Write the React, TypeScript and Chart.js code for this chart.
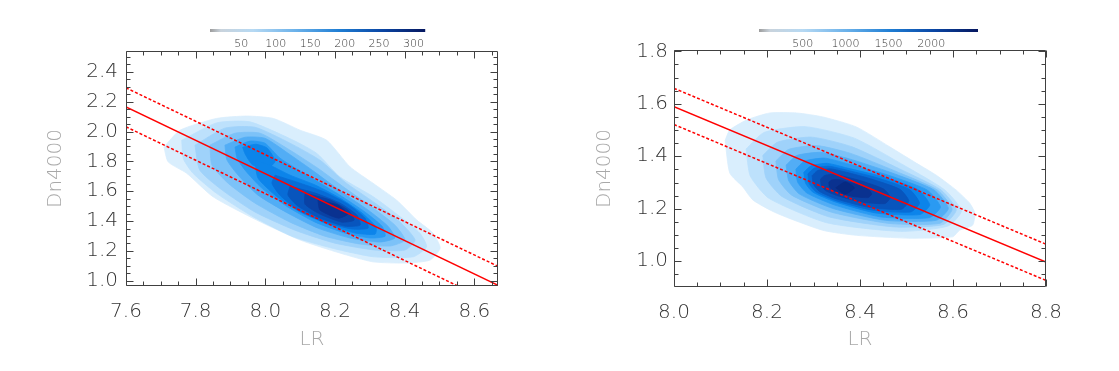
import React, { useEffect, useRef } from 'react';
import { Chart, registerables } from 'chart.js';

Chart.register(...registerables);

type Pt = [number, number];

// ---------- shared ----------
const LEVEL_COLORS = [
  '#d9eefd', '#bde1fc', '#9fd2fa', '#7cc2f8', '#52adf5', '#2a9af2',
  '#0c84ea', '#086cd6', '#0855bd', '#0a42a5', '#0a3290', '#072a82',
];

// ---------- left panel ----------
const LEFT_X_TICKS = [7.6, 7.8, 8.0, 8.2, 8.4, 8.6];
const LEFT_Y_TICKS = [1.0, 1.2, 1.4, 1.6, 1.8, 2.0, 2.2, 2.4];
const LEFT_CB_TICKS = [50, 100, 150, 200, 250, 300];

const LEFT_L1: Pt[] = [[7.709,1.897],[7.755,2.009],[7.860,2.088],[7.947,2.104],[8.023,2.088],[8.100,2.009],[8.176,1.942],[8.243,1.764],[8.309,1.654],[8.377,1.540],[8.435,1.407],[8.481,1.320],[8.502,1.219],[8.473,1.139],[8.406,1.119],[8.309,1.127],[8.214,1.186],[8.100,1.273],[7.975,1.407],[7.850,1.563],[7.774,1.721],[7.721,1.797]];
const LEFT_L2: Pt[] = [[7.760,1.942],[7.860,2.058],[7.956,2.065],[8.080,1.942],[8.148,1.853],[8.214,1.697],[8.310,1.563],[8.387,1.429],[8.444,1.318],[8.463,1.228],[8.425,1.161],[8.310,1.161],[8.195,1.217],[8.080,1.295],[7.965,1.429],[7.860,1.586],[7.793,1.719],[7.765,1.816]];
const LEFT_L3: Pt[] = [[7.798,1.909],[7.884,2.023],[7.970,2.029],[8.071,1.922],[8.157,1.808],[8.229,1.661],[8.315,1.521],[8.387,1.393],[8.430,1.273],[8.401,1.206],[8.315,1.206],[8.200,1.252],[8.085,1.339],[7.970,1.461],[7.876,1.608],[7.812,1.741]];
const LEFT_L4: Pt[] = [[7.841,1.909],[7.913,1.989],[7.985,1.989],[8.071,1.875],[8.151,1.754],[8.229,1.621],[8.306,1.494],[8.372,1.373],[8.401,1.273],[8.358,1.233],[8.272,1.246],[8.171,1.299],[8.071,1.393],[7.970,1.521],[7.893,1.654],[7.847,1.775]];
const LEFT_L5: Pt[] = [[7.884,1.909],[7.942,1.962],[7.999,1.955],[8.065,1.855],[8.143,1.727],[8.220,1.594],[8.295,1.474],[8.352,1.366],[8.372,1.287],[8.329,1.260],[8.243,1.287],[8.151,1.353],[8.065,1.453],[7.979,1.574],[7.922,1.708],[7.890,1.809]];
const LEFT_L6: Pt[] = [[7.913,1.896],[7.956,1.936],[7.999,1.922],[8.042,1.822],[8.128,1.695],[8.214,1.574],[8.286,1.461],[8.335,1.366],[8.344,1.299],[8.301,1.287],[8.229,1.320],[8.143,1.393],[8.065,1.494],[7.990,1.621],[7.942,1.741],[7.919,1.822]];
const LEFT_L7: Pt[] = [[7.970,1.809],[8.013,1.775],[8.071,1.708],[8.143,1.642],[8.214,1.554],[8.278,1.453],[8.318,1.360],[8.315,1.312],[8.258,1.320],[8.186,1.373],[8.100,1.461],[8.028,1.574],[7.979,1.688]];
const LEFT_L8: Pt[] = [[8.028,1.708],[8.100,1.654],[8.171,1.594],[8.237,1.513],[8.286,1.420],[8.295,1.353],[8.249,1.347],[8.171,1.393],[8.094,1.474],[8.042,1.574],[8.019,1.654]];
const LEFT_L9: Pt[] = [[8.071,1.634],[8.143,1.588],[8.214,1.521],[8.263,1.440],[8.272,1.373],[8.229,1.366],[8.157,1.420],[8.094,1.500],[8.065,1.574]];
const LEFT_L10: Pt[] = [[8.114,1.588],[8.186,1.541],[8.237,1.474],[8.255,1.407],[8.220,1.393],[8.157,1.447],[8.114,1.513]];
const LEFT_L11: Pt[] = [[8.151,1.541],[8.209,1.507],[8.237,1.447],[8.209,1.420],[8.157,1.474]];
const LEFT_LOBE: Pt[] = [[7.935,1.895],[7.972,1.915],[8.005,1.890],[8.028,1.800],[8.000,1.745],[7.962,1.780],[7.942,1.850]];

const LEFT_FIT_X = [7.6, 8.7];
const LEFT_FIT_MID = [2.166, 0.934];
const LEFT_FIT_HIGH = [2.293, 1.061];
const LEFT_FIT_LOW = [2.032, 0.800];

// ---------- right panel ----------
const RIGHT_X_TICKS = [8.0, 8.2, 8.4, 8.6, 8.8];
const RIGHT_Y_TICKS = [1.0, 1.2, 1.4, 1.6, 1.8];
const RIGHT_CB_TICKS = [500, 1000, 1500, 2000];

const RIGHT_L1: Pt[] = [[8.110,1.461],[8.120,1.336],[8.148,1.283],[8.170,1.233],[8.221,1.183],[8.320,1.118],[8.392,1.099],[8.505,1.088],[8.599,1.093],[8.614,1.118],[8.642,1.137],[8.647,1.183],[8.636,1.221],[8.607,1.271],[8.564,1.328],[8.521,1.374],[8.464,1.436],[8.392,1.512],[8.320,1.550],[8.264,1.565],[8.206,1.565],[8.156,1.538],[8.120,1.500]];
const RIGHT_L2: Pt[] = [[8.155,1.428],[8.164,1.325],[8.204,1.240],[8.328,1.147],[8.487,1.114],[8.589,1.134],[8.618,1.192],[8.583,1.271],[8.500,1.360],[8.388,1.469],[8.282,1.513],[8.194,1.491]];
const RIGHT_L3: Pt[] = [[8.191,1.403],[8.198,1.317],[8.232,1.247],[8.334,1.169],[8.474,1.131],[8.579,1.140],[8.607,1.196],[8.574,1.272],[8.485,1.352],[8.383,1.436],[8.296,1.473],[8.223,1.454]];
const RIGHT_L4: Pt[] = [[8.219,1.382],[8.225,1.311],[8.253,1.252],[8.339,1.187],[8.464,1.144],[8.572,1.145],[8.598,1.199],[8.566,1.272],[8.474,1.345],[8.380,1.411],[8.307,1.441],[8.246,1.426]];
const RIGHT_L5: Pt[] = [[8.241,1.366],[8.247,1.306],[8.270,1.256],[8.342,1.201],[8.455,1.156],[8.564,1.156],[8.590,1.202],[8.559,1.272],[8.465,1.339],[8.377,1.390],[8.316,1.415],[8.264,1.403]];
const RIGHT_L6: Pt[] = [[8.262,1.351],[8.266,1.301],[8.286,1.260],[8.346,1.214],[8.445,1.169],[8.549,1.166],[8.573,1.207],[8.544,1.272],[8.454,1.332],[8.375,1.371],[8.324,1.393],[8.281,1.382]];
const RIGHT_L7: Pt[] = [[8.279,1.339],[8.283,1.297],[8.299,1.263],[8.349,1.225],[8.434,1.184],[8.529,1.178],[8.550,1.215],[8.525,1.273],[8.442,1.325],[8.373,1.355],[8.330,1.373],[8.295,1.364]];
const RIGHT_L8: Pt[] = [[8.288,1.333],[8.291,1.295],[8.306,1.264],[8.350,1.230],[8.426,1.195],[8.509,1.188],[8.528,1.222],[8.506,1.274],[8.433,1.320],[8.372,1.347],[8.333,1.362],[8.302,1.355]];
const RIGHT_L9: Pt[] = [[8.297,1.326],[8.300,1.293],[8.313,1.266],[8.352,1.236],[8.418,1.206],[8.489,1.198],[8.505,1.230],[8.486,1.274],[8.423,1.314],[8.371,1.339],[8.337,1.352],[8.309,1.346]];
const RIGHT_L10: Pt[] = [[8.315,1.313],[8.317,1.289],[8.326,1.269],[8.355,1.248],[8.403,1.226],[8.454,1.220],[8.465,1.244],[8.451,1.275],[8.407,1.304],[8.369,1.322],[8.344,1.332],[8.324,1.327]];
const RIGHT_L11: Pt[] = [[8.333,1.300],[8.334,1.285],[8.340,1.273],[8.358,1.259],[8.388,1.246],[8.418,1.243],[8.425,1.257],[8.417,1.276],[8.390,1.294],[8.367,1.306],[8.351,1.312],[8.338,1.309]];
const RIGHT_L12: Pt[] = [[8.348,1.280],[8.368,1.302],[8.388,1.280],[8.368,1.256]];

const RIGHT_FIT_X = [8.0, 8.8];
const RIGHT_FIT_MID = [1.589, 0.997];
const RIGHT_FIT_HIGH = [1.659, 1.065];
const RIGHT_FIT_LOW = [1.521, 0.927];

// ---------- styling ----------
const FONT_FAMILY = "'DejaVu Sans', 'Liberation Sans', sans-serif";
const TICK_COLOR = '#333333';
const TITLE_COLOR = '#a8a8a8';
const FRAME_COLOR = '#404040';

interface PanelCfg {
  left: number;
  width: number;
  pad: { left: number; right: number; top: number; bottom: number };
  yAxisWidth: number;
  xAxisHeight: number;
  xMin: number; xMax: number; yMin: number; yMax: number;
  xTicks: number[]; yTicks: number[];
  levels: Pt[][];
  extras: { poly: Pt[]; level: number; order: number }[];
  fitX: number[]; fitMid: number[]; fitHigh: number[]; fitLow: number[];
  yTickPad: number;
}

const LEFT_CFG: PanelCfg = {
  left: 0, width: 560,
  pad: { left: 44, right: 62, top: 51, bottom: 19 },
  yAxisWidth: 82, xAxisHeight: 66,
  xMin: 7.6, xMax: 8.668, yMin: 0.965, yMax: 2.54,
  xTicks: LEFT_X_TICKS, yTicks: LEFT_Y_TICKS,
  levels: [LEFT_L1, LEFT_L2, LEFT_L3, LEFT_L4, LEFT_L5, LEFT_L6, LEFT_L7, LEFT_L8, LEFT_L9, LEFT_L10, LEFT_L11],
  extras: [{ poly: LEFT_LOBE, level: 6, order: 24.5 }],
  fitX: LEFT_FIT_X, fitMid: LEFT_FIT_MID, fitHigh: LEFT_FIT_HIGH, fitLow: LEFT_FIT_LOW,
  yTickPad: 8,
};

const RIGHT_CFG: PanelCfg = {
  left: 560, width: 559,
  pad: { left: 33, right: 73, top: 50, bottom: 19 },
  yAxisWidth: 81, xAxisHeight: 65,
  xMin: 8.0, xMax: 8.8, yMin: 0.902, yMax: 1.805,
  xTicks: RIGHT_X_TICKS, yTicks: RIGHT_Y_TICKS,
  levels: [RIGHT_L1, RIGHT_L2, RIGHT_L3, RIGHT_L4, RIGHT_L5, RIGHT_L6, RIGHT_L7, RIGHT_L8, RIGHT_L9, RIGHT_L10, RIGHT_L11, RIGHT_L12],
  extras: [],
  fitX: RIGHT_FIT_X, fitMid: RIGHT_FIT_MID, fitHigh: RIGHT_FIT_HIGH, fitLow: RIGHT_FIT_LOW,
  yTickPad: 6,
};

const MINOR_STEP = 0.05;

const framePlugin = {
  id: 'frameTicks',
  afterDatasetsDraw(chart: any) {
    const { ctx, chartArea: a } = chart;
    const xs = chart.scales.x;
    const ys = chart.scales.y;
    ctx.save();
    ctx.strokeStyle = FRAME_COLOR;
    ctx.lineWidth = 1;
    const L = Math.round(a.left) + 0.5;
    const R = Math.round(a.right) - 0.5;
    const T = Math.round(a.top) + 0.5;
    const B = Math.round(a.bottom) - 0.5;
    ctx.beginPath();
    ctx.rect(L, T, R - L, B - T);
    ctx.stroke();
    const majX = xs.ticks.map((t: any) => t.value);
    const majY = ys.ticks.map((t: any) => t.value);
    const isMajor = (v: number, arr: number[]) => arr.some((m) => Math.abs(m - v) < 1e-6);
    ctx.beginPath();
    const kx0 = Math.ceil(xs.min / MINOR_STEP - 1e-6);
    const kx1 = Math.floor(xs.max / MINOR_STEP + 1e-6);
    for (let k = kx0; k <= kx1; k++) {
      const v = k * MINOR_STEP;
      const len = isMajor(v, majX) ? 7 : 4;
      const p = Math.round(xs.getPixelForValue(v)) + 0.5;
      ctx.moveTo(p, B); ctx.lineTo(p, B - len);
      ctx.moveTo(p, T); ctx.lineTo(p, T + len);
    }
    const ky0 = Math.ceil(ys.min / MINOR_STEP - 1e-6);
    const ky1 = Math.floor(ys.max / MINOR_STEP + 1e-6);
    for (let k = ky0; k <= ky1; k++) {
      const v = k * MINOR_STEP;
      const len = isMajor(v, majY) ? 7 : 4;
      const p = Math.round(ys.getPixelForValue(v)) + 0.5;
      ctx.moveTo(L, p); ctx.lineTo(L + len, p);
      ctx.moveTo(R, p); ctx.lineTo(R - len, p);
    }
    ctx.stroke();
    ctx.restore();
  },
};

function Panel({ cfg }: { cfg: PanelCfg }) {
  const ref = useRef<HTMLCanvasElement>(null);
  useEffect(() => {
    if (!ref.current) return;
    const polyDs = (poly: Pt[], color: string, order: number) => ({
      data: [...poly, poly[0]].map(([x, y]) => ({ x, y })),
      backgroundColor: color,
      borderColor: color,
      borderWidth: 0.8,
      pointRadius: 0,
      fill: 'shape',
      tension: 0.2,
      order,
    });
    const fitDs = (ys: number[], dash: number[]) => ({
      data: cfg.fitX.map((x, i) => ({ x, y: ys[i] })),
      borderColor: '#ff0000',
      backgroundColor: '#ff0000',
      borderWidth: 1.5,
      borderDash: dash,
      pointRadius: 0,
      fill: false,
      tension: 0,
      order: 0,
    });
    const datasets: any[] = [
      fitDs(cfg.fitMid, []),
      fitDs(cfg.fitHigh, [3, 2]),
      fitDs(cfg.fitLow, [3, 2]),
    ];
    cfg.levels.forEach((poly, i) => datasets.push(polyDs(poly, LEVEL_COLORS[i], 30 - i)));
    cfg.extras.forEach((e) => datasets.push(polyDs(e.poly, LEVEL_COLORS[e.level], e.order)));

    const tickFont = { family: FONT_FAMILY, size: 20, weight: '200' as any };
    const chart = new Chart(ref.current, {
      type: 'line',
      data: { datasets },
      options: {
        responsive: false,
        animation: false,
        events: [],
        layout: { padding: cfg.pad },
        plugins: { legend: { display: false }, tooltip: { enabled: false } },
        scales: {
          x: {
            type: 'linear',
            min: cfg.xMin,
            max: cfg.xMax,
            afterBuildTicks: (s: any) => { s.ticks = cfg.xTicks.map((v) => ({ value: v })); },
            afterFit: (s: any) => { s.height = cfg.xAxisHeight; },
            ticks: {
              callback: (v: any) => Number(v).toFixed(1),
              color: TICK_COLOR,
              font: tickFont,
              padding: 14,
              maxRotation: 0,
              autoSkip: false,
            },
            grid: { display: false, drawTicks: false },
            border: { display: false },
            title: { display: true, text: 'LR', color: TITLE_COLOR, font: tickFont, padding: 0 },
          },
          y: {
            type: 'linear',
            min: cfg.yMin,
            max: cfg.yMax,
            afterBuildTicks: (s: any) => { s.ticks = cfg.yTicks.map((v) => ({ value: v })); },
            afterFit: (s: any) => { s.width = cfg.yAxisWidth; },
            ticks: {
              callback: (v: any) => Number(v).toFixed(1),
              color: TICK_COLOR,
              font: tickFont,
              padding: cfg.yTickPad,
              autoSkip: false,
            },
            grid: { display: false, drawTicks: false },
            border: { display: false },
            title: { display: true, text: 'Dn4000', color: TITLE_COLOR, font: tickFont, padding: 0 },
          },
        },
      } as any,
      plugins: [framePlugin],
    });
    return () => chart.destroy();
  }, [cfg]);
  return (
    <canvas
      ref={ref}
      width={cfg.width}
      height={371}
      style={{ position: 'absolute', left: cfg.left, top: 0, width: cfg.width, height: 371 }}
    />
  );
}

interface CbCfg { left: number; top: number; width: number; min: number; max: number; ticks: number[] }

const LEFT_CB: CbCfg = { left: 210, top: 29, width: 220, min: 4.5, max: 317, ticks: LEFT_CB_TICKS };
const RIGHT_CB: CbCfg = { left: 759, top: 29, width: 219, min: -12, max: 2547, ticks: RIGHT_CB_TICKS };

const gradientPlugin = {
  id: 'cbGradient',
  afterDraw(chart: any) {
    const { ctx, chartArea: a } = chart;
    const g = ctx.createLinearGradient(a.left, 0, a.right, 0);
    g.addColorStop(0, '#9c9c9c');
    g.addColorStop(0.05, '#c9d3dc');
    g.addColorStop(0.2, '#b6d9f3');
    g.addColorStop(0.4, '#6ab1ea');
    g.addColorStop(0.6, '#1f7ed4');
    g.addColorStop(0.8, '#0a46a4');
    g.addColorStop(1, '#06175f');
    ctx.save();
    ctx.fillStyle = g;
    ctx.fillRect(a.left, a.top, a.right - a.left, a.bottom - a.top);
    ctx.restore();
  },
};

function Colorbar({ cfg }: { cfg: CbCfg }) {
  const ref = useRef<HTMLCanvasElement>(null);
  const H = 28;
  useEffect(() => {
    if (!ref.current) return;
    const chart = new Chart(ref.current, {
      type: 'line',
      data: { datasets: [] },
      options: {
        responsive: false,
        animation: false,
        events: [],
        layout: { padding: 0 },
        plugins: { legend: { display: false }, tooltip: { enabled: false } },
        scales: {
          x: {
            type: 'linear',
            min: cfg.min,
            max: cfg.max,
            afterBuildTicks: (s: any) => { s.ticks = cfg.ticks.map((v) => ({ value: v })); },
            afterFit: (s: any) => { s.height = H - 3; },
            ticks: {
              callback: (v: any) => String(v),
              color: TICK_COLOR,
              font: { family: FONT_FAMILY, size: 11, weight: '200' as any },
              padding: 6,
              maxRotation: 0,
              autoSkip: false,
            },
            grid: { display: false, drawTicks: false },
            border: { display: false },
          },
          y: { display: false },
        },
      } as any,
      plugins: [gradientPlugin],
    });
    return () => chart.destroy();
  }, [cfg]);
  return (
    <canvas
      ref={ref}
      width={cfg.width}
      height={H}
      style={{ position: 'absolute', left: cfg.left, top: cfg.top, width: cfg.width, height: H }}
    />
  );
}

export default function App() {
  return (
    <div style={{ position: 'absolute', left: 0, top: 0, width: 1119, height: 371, background: '#ffffff', overflow: 'hidden' }}>
      <Panel cfg={LEFT_CFG} />
      <Panel cfg={RIGHT_CFG} />
      <Colorbar cfg={LEFT_CB} />
      <Colorbar cfg={RIGHT_CB} />
    </div>
  );
}
